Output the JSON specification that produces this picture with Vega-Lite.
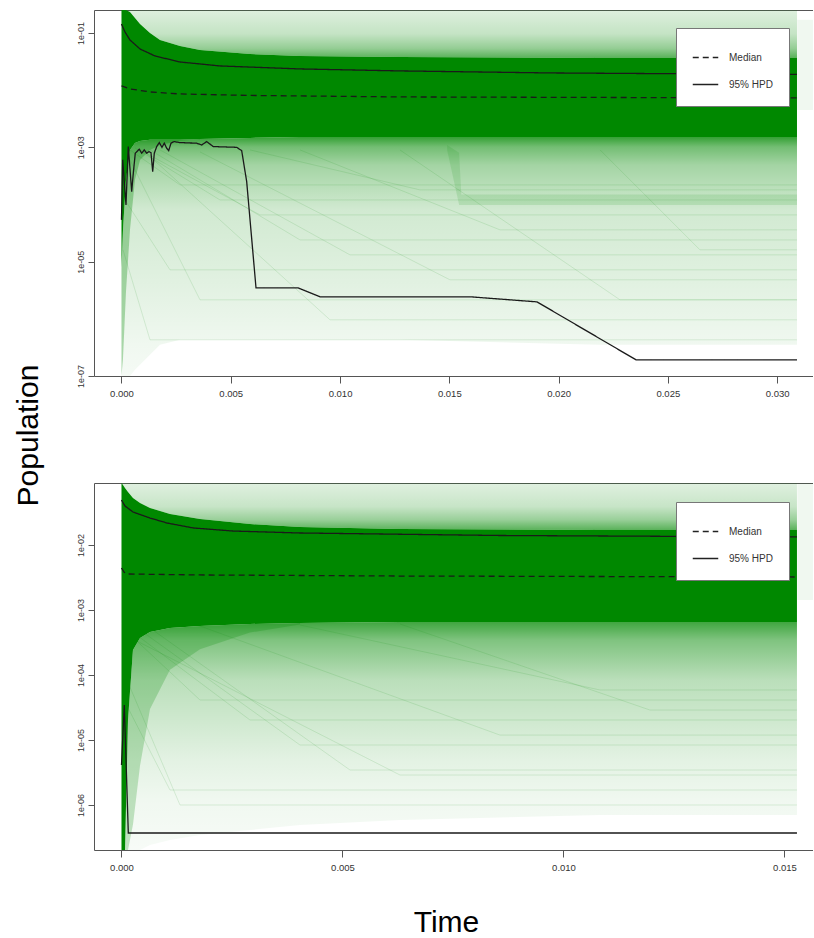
{
  "$schema": "https://vega.github.io/schema/vega-lite/v6.json",
  "autosize": {"type": "pad"},
  "padding": {"left": 13, "top": 10, "right": 0, "bottom": 0},
  "bounds": "flush",
  "spacing": 107,
  "config": {"view": {"stroke": null}, "font": "Liberation Sans"},
  "datasets": {
    "bands": [
      {"p":"top","b":"c","t":0,"lo":7.79e-6,"hi":0.252},
      {"p":"top","b":"c","t":0.0000686,"lo":3.6e-5,"hi":0.252},
      {"p":"top","b":"c","t":0.000206,"lo":2.69e-4,"hi":0.252},
      {"p":"top","b":"c","t":0.000389,"lo":9.01e-4,"hi":0.233},
      {"p":"top","b":"c","t":0.000618,"lo":1.19e-3,"hi":0.183},
      {"p":"top","b":"c","t":0.000847,"lo":1.29e-3,"hi":0.1437},
      {"p":"top","b":"c","t":0.001304,"lo":1.35e-3,"hi":0.1},
      {"p":"top","b":"c","t":0.001762,"lo":1.35e-3,"hi":0.0754},
      {"p":"top","b":"c","t":0.002677,"lo":1.35e-3,"hi":0.0593},
      {"p":"top","b":"c","t":0.003592,"lo":1.40e-3,"hi":0.0504},
      {"p":"top","b":"c","t":0.00588,"lo":1.46e-3,"hi":0.0429},
      {"p":"top","b":"c","t":0.008168,"lo":1.52e-3,"hi":0.0396},
      {"p":"top","b":"c","t":0.01274,"lo":1.52e-3,"hi":0.038},
      {"p":"top","b":"c","t":0.0219,"lo":1.52e-3,"hi":0.0366},
      {"p":"top","b":"c","t":0.03091,"lo":1.52e-3,"hi":0.0366},

      {"p":"top","b":"uh","t":0.000206,"lo":0.252,"hi":0.252},
      {"p":"top","b":"uh","t":0.000389,"lo":0.233,"hi":0.252},
      {"p":"top","b":"uh","t":0.000618,"lo":0.183,"hi":0.252},
      {"p":"top","b":"uh","t":0.000847,"lo":0.1437,"hi":0.252},
      {"p":"top","b":"uh","t":0.001304,"lo":0.1,"hi":0.252},
      {"p":"top","b":"uh","t":0.001762,"lo":0.0754,"hi":0.252},
      {"p":"top","b":"uh","t":0.002677,"lo":0.0593,"hi":0.252},
      {"p":"top","b":"uh","t":0.003592,"lo":0.0504,"hi":0.252},
      {"p":"top","b":"uh","t":0.00588,"lo":0.0429,"hi":0.252},
      {"p":"top","b":"uh","t":0.008168,"lo":0.0396,"hi":0.252},
      {"p":"top","b":"uh","t":0.01274,"lo":0.038,"hi":0.252},
      {"p":"top","b":"uh","t":0.0219,"lo":0.0366,"hi":0.252},
      {"p":"top","b":"uh","t":0.03091,"lo":0.0366,"hi":0.252},

      {"p":"top","b":"lh","t":0,"lo":1e-7,"hi":7.79e-6},
      {"p":"top","b":"lh","t":0.0000686,"lo":1e-7,"hi":3.6e-5},
      {"p":"top","b":"lh","t":0.000206,"lo":1e-7,"hi":2.69e-4},
      {"p":"top","b":"lh","t":0.000389,"lo":1e-7,"hi":9.01e-4},
      {"p":"top","b":"lh","t":0.000618,"lo":1.28e-7,"hi":1.19e-3},
      {"p":"top","b":"lh","t":0.000847,"lo":1.57e-7,"hi":1.29e-3},
      {"p":"top","b":"lh","t":0.001304,"lo":2.35e-7,"hi":1.35e-3},
      {"p":"top","b":"lh","t":0.001762,"lo":3.51e-7,"hi":1.35e-3},
      {"p":"top","b":"lh","t":0.002677,"lo":4.29e-7,"hi":1.35e-3},
      {"p":"top","b":"lh","t":0.003592,"lo":4.29e-7,"hi":1.40e-3},
      {"p":"top","b":"lh","t":0.00588,"lo":4.29e-7,"hi":1.46e-3},
      {"p":"top","b":"lh","t":0.008168,"lo":4.29e-7,"hi":1.52e-3},
      {"p":"top","b":"lh","t":0.01274,"lo":4.29e-7,"hi":1.52e-3},
      {"p":"top","b":"lh","t":0.0219,"lo":3.51e-7,"hi":1.52e-3},
      {"p":"top","b":"lh","t":0.03091,"lo":3.51e-7,"hi":1.52e-3},

      {"p":"top","b":"lf","t":0,"lo":1e-7,"hi":7.79e-6},
      {"p":"top","b":"lf","t":0.0000686,"lo":2e-7,"hi":3.6e-5},
      {"p":"top","b":"lf","t":0.000206,"lo":3e-6,"hi":2.69e-4},
      {"p":"top","b":"lf","t":0.000389,"lo":3.6e-5,"hi":9.01e-4},
      {"p":"top","b":"lf","t":0.000618,"lo":2.7e-4,"hi":1.19e-3},
      {"p":"top","b":"lf","t":0.000847,"lo":6e-4,"hi":1.29e-3},
      {"p":"top","b":"lf","t":0.001304,"lo":9e-4,"hi":1.35e-3},
      {"p":"top","b":"lf","t":0.001762,"lo":1.1e-3,"hi":1.35e-3},
      {"p":"top","b":"lf","t":0.002677,"lo":1.3e-3,"hi":1.35e-3},
      {"p":"top","b":"lf","t":0.003592,"lo":1.38e-3,"hi":1.40e-3},

      {"p":"top","b":"s","t":0.0149,"lo":9.0e-4,"hi":1.1e-3},
      {"p":"top","b":"s","t":0.01545,"lo":9.8e-5,"hi":8.0e-4},
      {"p":"top","b":"s","t":0.01555,"lo":9.8e-5,"hi":1.5e-4},
      {"p":"top","b":"s","t":0.03091,"lo":9.8e-5,"hi":1.5e-4},

      {"p":"top","b":"ext","t":0.03092,"lo":0.0045,"hi":0.17},
      {"p":"top","b":"ext","t":0.0317,"lo":0.0045,"hi":0.17},

      {"p":"bot","b":"c","t":0,"lo":2.03e-7,"hi":0.0899},
      {"p":"bot","b":"c","t":0.0000339,"lo":2.03e-7,"hi":0.0838},
      {"p":"bot","b":"c","t":0.0000792,"lo":2.03e-7,"hi":0.0753},
      {"p":"bot","b":"c","t":0.000147,"lo":2.03e-5,"hi":0.0654},
      {"p":"bot","b":"c","t":0.00026,"lo":2.42e-4,"hi":0.0528},
      {"p":"bot","b":"c","t":0.000419,"lo":3.71e-4,"hi":0.0443},
      {"p":"bot","b":"c","t":0.000645,"lo":4.59e-4,"hi":0.0371},
      {"p":"bot","b":"c","t":0.001097,"lo":5.28e-4,"hi":0.03},
      {"p":"bot","b":"c","t":0.001776,"lo":5.67e-4,"hi":0.0251},
      {"p":"bot","b":"c","t":0.002907,"lo":6.09e-4,"hi":0.021},
      {"p":"bot","b":"c","t":0.004038,"lo":6.31e-4,"hi":0.0189},
      {"p":"bot","b":"c","t":0.0063,"lo":6.54e-4,"hi":0.0176},
      {"p":"bot","b":"c","t":0.010825,"lo":6.54e-4,"hi":0.017},
      {"p":"bot","b":"c","t":0.015282,"lo":6.54e-4,"hi":0.017},

      {"p":"bot","b":"uh","t":0,"lo":0.0899,"hi":0.0899},
      {"p":"bot","b":"uh","t":0.0000339,"lo":0.0838,"hi":0.0899},
      {"p":"bot","b":"uh","t":0.0000792,"lo":0.0753,"hi":0.0899},
      {"p":"bot","b":"uh","t":0.000147,"lo":0.0654,"hi":0.0899},
      {"p":"bot","b":"uh","t":0.00026,"lo":0.0528,"hi":0.0899},
      {"p":"bot","b":"uh","t":0.000419,"lo":0.0443,"hi":0.0899},
      {"p":"bot","b":"uh","t":0.000645,"lo":0.0371,"hi":0.0899},
      {"p":"bot","b":"uh","t":0.001097,"lo":0.03,"hi":0.0899},
      {"p":"bot","b":"uh","t":0.001776,"lo":0.0251,"hi":0.0899},
      {"p":"bot","b":"uh","t":0.002907,"lo":0.021,"hi":0.0899},
      {"p":"bot","b":"uh","t":0.004038,"lo":0.0189,"hi":0.0899},
      {"p":"bot","b":"uh","t":0.0063,"lo":0.0176,"hi":0.0899},
      {"p":"bot","b":"uh","t":0.010825,"lo":0.017,"hi":0.0899},
      {"p":"bot","b":"uh","t":0.015282,"lo":0.017,"hi":0.0899},

      {"p":"bot","b":"lh","t":0.0000792,"lo":2.03e-7,"hi":2.03e-7},
      {"p":"bot","b":"lh","t":0.000147,"lo":2.03e-7,"hi":2.03e-5},
      {"p":"bot","b":"lh","t":0.00026,"lo":2.03e-7,"hi":2.42e-4},
      {"p":"bot","b":"lh","t":0.000419,"lo":2.03e-7,"hi":3.71e-4},
      {"p":"bot","b":"lh","t":0.000645,"lo":2.42e-7,"hi":4.59e-4},
      {"p":"bot","b":"lh","t":0.001097,"lo":2.89e-7,"hi":5.28e-4},
      {"p":"bot","b":"lh","t":0.001776,"lo":3.45e-7,"hi":5.67e-4},
      {"p":"bot","b":"lh","t":0.002907,"lo":4.12e-7,"hi":6.09e-4},
      {"p":"bot","b":"lh","t":0.004038,"lo":4.92e-7,"hi":6.31e-4},
      {"p":"bot","b":"lh","t":0.0063,"lo":5.88e-7,"hi":6.54e-4},
      {"p":"bot","b":"lh","t":0.010825,"lo":7.02e-7,"hi":6.54e-4},
      {"p":"bot","b":"lh","t":0.015282,"lo":7.02e-7,"hi":6.54e-4},

      {"p":"bot","b":"lf","t":0.0000792,"lo":2.03e-7,"hi":2.03e-7},
      {"p":"bot","b":"lf","t":0.000147,"lo":2.03e-7,"hi":2.03e-5},
      {"p":"bot","b":"lf","t":0.00026,"lo":5e-7,"hi":2.42e-4},
      {"p":"bot","b":"lf","t":0.000419,"lo":4e-6,"hi":3.71e-4},
      {"p":"bot","b":"lf","t":0.000645,"lo":3e-5,"hi":4.59e-4},
      {"p":"bot","b":"lf","t":0.001097,"lo":1.2e-4,"hi":5.28e-4},
      {"p":"bot","b":"lf","t":0.001776,"lo":2.5e-4,"hi":5.67e-4},
      {"p":"bot","b":"lf","t":0.002907,"lo":4.5e-4,"hi":6.09e-4},
      {"p":"bot","b":"lf","t":0.004038,"lo":6.0e-4,"hi":6.31e-4},

      {"p":"bot","b":"ext","t":0.01529,"lo":1.43e-3,"hi":0.0899},
      {"p":"bot","b":"ext","t":0.01567,"lo":1.43e-3,"hi":0.0899}
    ],
    "traj": [
      {"p":"top","id":1,"t":0.000389,"v":9.01e-4},{"p":"top","id":1,"t":0.002677,"v":2.2e-4},{"p":"top","id":1,"t":0.03091,"v":2.2e-4},
      {"p":"top","id":2,"t":0.000618,"v":9.76e-4},{"p":"top","id":2,"t":0.004507,"v":1.2e-4},{"p":"top","id":2,"t":0.03091,"v":1.2e-4},
      {"p":"top","id":3,"t":0.000847,"v":9.01e-4},{"p":"top","id":3,"t":0.006338,"v":6.58e-5},{"p":"top","id":3,"t":0.03091,"v":6.58e-5},
      {"p":"top","id":4,"t":0.001304,"v":9.01e-4},{"p":"top","id":4,"t":0.008168,"v":2.4e-5},{"p":"top","id":4,"t":0.03091,"v":2.4e-5},
      {"p":"top","id":5,"t":0.001762,"v":9.01e-4},{"p":"top","id":5,"t":0.010456,"v":1.315e-5},{"p":"top","id":5,"t":0.03091,"v":1.315e-5},
      {"p":"top","id":6,"t":0.00016,"v":1.2e-4},{"p":"top","id":6,"t":0.002219,"v":7.19e-6},{"p":"top","id":6,"t":0.03091,"v":7.19e-6},
      {"p":"top","id":7,"t":0.000389,"v":6.03e-4},{"p":"top","id":7,"t":0.003592,"v":2.15e-6},{"p":"top","id":7,"t":0.03091,"v":2.15e-6},
      {"p":"top","id":8,"t":0.001075,"v":8.31e-4},{"p":"top","id":8,"t":0.009541,"v":9.61e-7},{"p":"top","id":8,"t":0.03091,"v":9.61e-7},
      {"p":"top","id":9,"t":0.008168,"v":9.01e-4},{"p":"top","id":9,"t":0.01732,"v":3.6e-5},{"p":"top","id":9,"t":0.03091,"v":3.6e-5},
      {"p":"top","id":10,"t":0.01274,"v":9.01e-4},{"p":"top","id":10,"t":0.02281,"v":2.15e-6},{"p":"top","id":10,"t":0.03091,"v":2.15e-6},
      {"p":"top","id":11,"t":0.003592,"v":8.31e-4},{"p":"top","id":11,"t":0.01503,"v":4.81e-6},{"p":"top","id":11,"t":0.03091,"v":4.81e-6},
      {"p":"top","id":12,"t":0.0000686,"v":1.61e-5},{"p":"top","id":12,"t":0.001304,"v":4.29e-7},{"p":"top","id":12,"t":0.03091,"v":4.29e-7},
      {"p":"top","id":13,"t":0.0219,"v":9.01e-4},{"p":"top","id":13,"t":0.02647,"v":1.61e-5},{"p":"top","id":13,"t":0.03091,"v":1.61e-5},
      {"p":"top","id":14,"t":0.00588,"v":9.01e-4},{"p":"top","id":14,"t":0.01366,"v":1.8e-4},{"p":"top","id":14,"t":0.03091,"v":1.8e-4},

      {"p":"bot","id":1,"t":0.0000792,"v":4.92e-4},{"p":"bot","id":1,"t":0.001776,"v":4.12e-5},{"p":"bot","id":1,"t":0.015282,"v":4.12e-5},
      {"p":"bot","id":2,"t":0.000192,"v":4.92e-4},{"p":"bot","id":2,"t":0.002907,"v":2.03e-5},{"p":"bot","id":2,"t":0.015282,"v":2.03e-5},
      {"p":"bot","id":3,"t":0.000419,"v":4.92e-4},{"p":"bot","id":3,"t":0.004038,"v":8.37e-6},{"p":"bot","id":3,"t":0.015282,"v":8.37e-6},
      {"p":"bot","id":4,"t":0.000645,"v":5.28e-4},{"p":"bot","id":4,"t":0.00517,"v":3.45e-6},{"p":"bot","id":4,"t":0.015282,"v":3.45e-6},
      {"p":"bot","id":5,"t":0.0000566,"v":4.12e-5},{"p":"bot","id":5,"t":0.001097,"v":1.7e-6},{"p":"bot","id":5,"t":0.015282,"v":1.7e-6},
      {"p":"bot","id":6,"t":0.000305,"v":3.45e-4},{"p":"bot","id":6,"t":0.006301,"v":2.89e-6},{"p":"bot","id":6,"t":0.015282,"v":2.89e-6},
      {"p":"bot","id":7,"t":0.004038,"v":5.88e-4},{"p":"bot","id":7,"t":0.010825,"v":5.88e-5},{"p":"bot","id":7,"t":0.015282,"v":5.88e-5},
      {"p":"bot","id":8,"t":0.001776,"v":5.67e-4},{"p":"bot","id":8,"t":0.008563,"v":1.19e-5},{"p":"bot","id":8,"t":0.015282,"v":1.19e-5},
      {"p":"bot","id":9,"t":0.000124,"v":8.37e-5},{"p":"bot","id":9,"t":0.001323,"v":1.0e-6},{"p":"bot","id":9,"t":0.015282,"v":1.0e-6},
      {"p":"bot","id":10,"t":0.006301,"v":6.09e-4},{"p":"bot","id":10,"t":0.011956,"v":2.89e-5},{"p":"bot","id":10,"t":0.015282,"v":2.89e-5}
    ],
    "lines": [
      {"p":"top","s":"m","stat":"Median","t":0,"v":0.01184},
      {"p":"top","s":"m","stat":"Median","t":0.000389,"v":0.0105},
      {"p":"top","s":"m","stat":"Median","t":0.001304,"v":0.0093},
      {"p":"top","s":"m","stat":"Median","t":0.002677,"v":0.00858},
      {"p":"top","s":"m","stat":"Median","t":0.00588,"v":0.00808},
      {"p":"top","s":"m","stat":"Median","t":0.01274,"v":0.00761},
      {"p":"top","s":"m","stat":"Median","t":0.03091,"v":0.0073},

      {"p":"top","s":"u","stat":"95% HPD","t":0,"v":0.1437},
      {"p":"top","s":"u","stat":"95% HPD","t":0.00016,"v":0.1041},
      {"p":"top","s":"u","stat":"95% HPD","t":0.000389,"v":0.0754},
      {"p":"top","s":"u","stat":"95% HPD","t":0.000847,"v":0.0525},
      {"p":"top","s":"u","stat":"95% HPD","t":0.001533,"v":0.0396},
      {"p":"top","s":"u","stat":"95% HPD","t":0.002677,"v":0.0311},
      {"p":"top","s":"u","stat":"95% HPD","t":0.004507,"v":0.0265},
      {"p":"top","s":"u","stat":"95% HPD","t":0.008168,"v":0.0235},
      {"p":"top","s":"u","stat":"95% HPD","t":0.01274,"v":0.0217},
      {"p":"top","s":"u","stat":"95% HPD","t":0.01961,"v":0.02},
      {"p":"top","s":"u","stat":"95% HPD","t":0.03091,"v":0.0188},

      {"p":"top","s":"l","stat":"95% HPD","t":0,"v":5.38e-5},
      {"p":"top","s":"l","stat":"95% HPD","t":0.000055,"v":6.03e-4},
      {"p":"top","s":"l","stat":"95% HPD","t":0.000206,"v":9.84e-5},
      {"p":"top","s":"l","stat":"95% HPD","t":0.000311,"v":1.03e-3},
      {"p":"top","s":"l","stat":"95% HPD","t":0.000467,"v":1.68e-4},
      {"p":"top","s":"l","stat":"95% HPD","t":0.00054,"v":3.52e-4},
      {"p":"top","s":"l","stat":"95% HPD","t":0.000631,"v":7.89e-4},
      {"p":"top","s":"l","stat":"95% HPD","t":0.000815,"v":9.27e-4},
      {"p":"top","s":"l","stat":"95% HPD","t":0.000924,"v":7.89e-4},
      {"p":"top","s":"l","stat":"95% HPD","t":0.001043,"v":9.01e-4},
      {"p":"top","s":"l","stat":"95% HPD","t":0.001153,"v":7.89e-4},
      {"p":"top","s":"l","stat":"95% HPD","t":0.001258,"v":8.42e-4},
      {"p":"top","s":"l","stat":"95% HPD","t":0.00135,"v":8.08e-4},
      {"p":"top","s":"l","stat":"95% HPD","t":0.001428,"v":3.76e-4},
      {"p":"top","s":"l","stat":"95% HPD","t":0.001501,"v":7.89e-4},
      {"p":"top","s":"l","stat":"95% HPD","t":0.001611,"v":1.03e-3},
      {"p":"top","s":"l","stat":"95% HPD","t":0.00173,"v":1.21e-3},
      {"p":"top","s":"l","stat":"95% HPD","t":0.001853,"v":1.0e-3},
      {"p":"top","s":"l","stat":"95% HPD","t":0.001959,"v":1.18e-3},
      {"p":"top","s":"l","stat":"95% HPD","t":0.002068,"v":9.64e-4},
      {"p":"top","s":"l","stat":"95% HPD","t":0.00216,"v":8.75e-4},
      {"p":"top","s":"l","stat":"95% HPD","t":0.002265,"v":1.18e-3},
      {"p":"top","s":"l","stat":"95% HPD","t":0.002403,"v":1.26e-3},
      {"p":"top","s":"l","stat":"95% HPD","t":0.002677,"v":1.21e-3},
      {"p":"top","s":"l","stat":"95% HPD","t":0.003441,"v":1.18e-3},
      {"p":"top","s":"l","stat":"95% HPD","t":0.00367,"v":1.10e-3},
      {"p":"top","s":"l","stat":"95% HPD","t":0.003899,"v":1.26e-3},
      {"p":"top","s":"l","stat":"95% HPD","t":0.0042,"v":1.03e-3},
      {"p":"top","s":"l","stat":"95% HPD","t":0.005272,"v":1.0e-3},
      {"p":"top","s":"l","stat":"95% HPD","t":0.0055,"v":8.75e-4},
      {"p":"top","s":"l","stat":"95% HPD","t":0.005729,"v":2.51e-4},
      {"p":"top","s":"l","stat":"95% HPD","t":0.006155,"v":3.48e-6},
      {"p":"top","s":"l","stat":"95% HPD","t":0.008077,"v":3.48e-6},
      {"p":"top","s":"l","stat":"95% HPD","t":0.009084,"v":2.43e-6},
      {"p":"top","s":"l","stat":"95% HPD","t":0.015947,"v":2.43e-6},
      {"p":"top","s":"l","stat":"95% HPD","t":0.019013,"v":1.98e-6},
      {"p":"top","s":"l","stat":"95% HPD","t":0.023543,"v":1.92e-7},
      {"p":"top","s":"l","stat":"95% HPD","t":0.030911,"v":1.92e-7},

      {"p":"bot","s":"m","stat":"Median","t":0,"v":0.00443},
      {"p":"bot","s":"m","stat":"Median","t":0.0000566,"v":0.00384},
      {"p":"bot","s":"m","stat":"Median","t":0.000124,"v":0.00358},
      {"p":"bot","s":"m","stat":"Median","t":0.001776,"v":0.00346},
      {"p":"bot","s":"m","stat":"Median","t":0.0063,"v":0.00333},
      {"p":"bot","s":"m","stat":"Median","t":0.015282,"v":0.00322},

      {"p":"bot","s":"u","stat":"95% HPD","t":0,"v":0.0492},
      {"p":"bot","s":"u","stat":"95% HPD","t":0.0000792,"v":0.0398},
      {"p":"bot","s":"u","stat":"95% HPD","t":0.00026,"v":0.0322},
      {"p":"bot","s":"u","stat":"95% HPD","t":0.000645,"v":0.026},
      {"p":"bot","s":"u","stat":"95% HPD","t":0.001029,"v":0.0218},
      {"p":"bot","s":"u","stat":"95% HPD","t":0.001618,"v":0.0183},
      {"p":"bot","s":"u","stat":"95% HPD","t":0.002523,"v":0.0164},
      {"p":"bot","s":"u","stat":"95% HPD","t":0.004038,"v":0.0153},
      {"p":"bot","s":"u","stat":"95% HPD","t":0.008563,"v":0.014},
      {"p":"bot","s":"u","stat":"95% HPD","t":0.015282,"v":0.0133},

      {"p":"bot","s":"l","stat":"95% HPD","t":0,"v":4.12e-6},
      {"p":"bot","s":"l","stat":"95% HPD","t":0.0000634,"v":3.45e-5},
      {"p":"bot","s":"l","stat":"95% HPD","t":0.000154,"v":3.71e-7},
      {"p":"bot","s":"l","stat":"95% HPD","t":0.015282,"v":3.71e-7}
    ]
  },
  "resolve": {
    "scale": {"x": "independent", "y": "independent", "strokeDash": "independent"},
    "legend": {"strokeDash": "independent"}
  },
  "vconcat": [
    {
      "width": 719,
      "height": 366,
      "layer": [
        {
          "layer": [
            {
              "data": {"name": "bands"},
              "transform": [{"filter": "datum.p == 'top' && datum.b == 'lh'"}],
              "mark": {"type": "area", "clip": true, "color": {"gradient": "linear", "x1": 0, "y1": 0, "x2": 0, "y2": 1,
                "stops": [{"offset": 0, "color": "rgba(0,136,0,0.8)"}, {"offset": 0.042, "color": "rgba(0,136,0,0.55)"}, {"offset": 0.117, "color": "rgba(0,136,0,0.36)"},
                  {"offset": 0.305, "color": "rgba(0,136,0,0.18)"}, {"offset": 0.68, "color": "rgba(0,136,0,0.1)"}, {"offset": 0.87, "color": "rgba(0,136,0,0.06)"}, {"offset": 1, "color": "rgba(0,136,0,0.04)"}]}},
              "encoding": {
                "x": {"field": "t", "type": "quantitative",
                  "scale": {"domain": [-0.001258, 0.031643], "nice": false, "zero": false},
                  "axis": {"orient": "bottom", "values": [0, 0.005, 0.01, 0.015, 0.02, 0.025, 0.03], "format": ".3f", "title": null,
                    "labelFontSize": 9.5, "labelColor": "#333", "tickSize": 7, "labelPadding": 5, "domainColor": "#555", "tickColor": "#555", "labelFlush": false, "grid": false}},
                "y": {"field": "lo", "type": "quantitative",
                  "scale": {"type": "log", "domain": [1e-7, 0.2523], "nice": false, "zero": false},
                  "axis": {"orient": "left", "values": [1e-7, 1e-5, 1e-3, 1e-1], "labelExpr": "'1e-0' + (-round(log(datum.value)/LN10))",
                    "title": "Population", "titleFontSize": 30, "titleFont": "Liberation Sans", "titleFontWeight": "normal", "titleColor": "#000",
                    "titleAngle": -90, "titleX": -57, "titleY": 425, "titleAlign": "center", "titleBaseline": "alphabetic",
                    "labelAngle": -90, "labelAlign": "center", "labelBaseline": "bottom", "labelFontSize": 9, "labelColor": "#333",
                    "tickSize": 6, "labelPadding": 3, "domainColor": "#555", "tickColor": "#555", "grid": false}},
                "y2": {"field": "hi"}
              }
            },
            {
              "data": {"name": "bands"},
              "transform": [{"filter": "datum.p == 'top' && datum.b == 'uh'"}],
              "mark": {"type": "area", "clip": true, "color": {"gradient": "linear", "x1": 0, "y1": 0, "x2": 0, "y2": 1,
                "stops": [{"offset": 0, "color": "rgba(0,136,0,0.13)"}, {"offset": 0.5, "color": "rgba(0,136,0,0.23)"}, {"offset": 0.8, "color": "rgba(0,136,0,0.42)"}, {"offset": 1, "color": "rgba(0,136,0,0.65)"}]}},
              "encoding": {"x": {"field": "t", "type": "quantitative"}, "y": {"field": "lo", "type": "quantitative"}, "y2": {"field": "hi"}}
            },
            {
              "data": {"name": "bands"},
              "transform": [{"filter": "datum.p == 'top' && datum.b == 'lf'"}],
              "mark": {"type": "area", "clip": true, "color": "#008800", "opacity": 0.3},
              "encoding": {"x": {"field": "t", "type": "quantitative"}, "y": {"field": "lo", "type": "quantitative"}, "y2": {"field": "hi"}}
            },
            {
              "data": {"name": "bands"},
              "transform": [{"filter": "datum.p == 'top' && datum.b == 's'"}],
              "mark": {"type": "area", "clip": true, "color": "#008800", "opacity": 0.12},
              "encoding": {"x": {"field": "t", "type": "quantitative"}, "y": {"field": "lo", "type": "quantitative"}, "y2": {"field": "hi"}}
            },
            {
              "data": {"name": "bands"},
              "transform": [{"filter": "datum.p == 'top' && datum.b == 'ext'"}],
              "mark": {"type": "area", "clip": true, "color": "#008800", "opacity": 0.06},
              "encoding": {"x": {"field": "t", "type": "quantitative"}, "y": {"field": "lo", "type": "quantitative"}, "y2": {"field": "hi"}}
            },
            {
              "data": {"name": "bands"},
              "transform": [{"filter": "datum.p == 'top' && datum.b == 'c'"}],
              "mark": {"type": "area", "clip": true, "color": "#008800"},
              "encoding": {"x": {"field": "t", "type": "quantitative"}, "y": {"field": "lo", "type": "quantitative"}, "y2": {"field": "hi"}}
            },
            {
              "data": {"name": "traj"},
              "transform": [{"filter": "datum.p == 'top'"}],
              "mark": {"type": "line", "clip": true, "color": "#008800", "opacity": 0.2, "strokeWidth": 0.6},
              "encoding": {"x": {"field": "t", "type": "quantitative"}, "y": {"field": "v", "type": "quantitative"}, "detail": {"field": "id"}}
            }
          ]
        },
        {
          "data": {"name": "lines"},
          "transform": [{"filter": "datum.p == 'top'"}],
          "mark": {"type": "line", "color": "#1a1a1a", "strokeWidth": 1.3, "clip": true},
          "encoding": {
            "x": {"field": "t", "type": "quantitative",
              "axis": {"orient": "top", "labels": false, "ticks": false, "title": null, "domainColor": "#555", "grid": false}},
            "y": {"field": "v", "type": "quantitative"},
            "detail": {"field": "s"},
            "strokeDash": {"field": "stat", "type": "nominal",
              "scale": {"domain": ["Median", "95% HPD"], "range": [[6, 4], [1, 0]]},
              "legend": {"orient": "none", "legendX": 582, "legendY": 18, "title": null, "fillColor": "#ffffff", "strokeColor": "#777",
                "padding": 16, "symbolType": "stroke", "symbolSize": 650, "symbolStrokeWidth": 1.3, "symbolStrokeColor": "#222",
                "labelFontSize": 10, "labelFont": "Liberation Sans", "labelColor": "#333", "labelOffset": 10, "rowPadding": 8}}
          }
        }
      ]
    },
    {
      "width": 719,
      "height": 367,
      "layer": [
        {
          "layer": [
            {
              "data": {"name": "bands"},
              "transform": [{"filter": "datum.p == 'bot' && datum.b == 'lh'"}],
              "mark": {"type": "area", "clip": true, "color": {"gradient": "linear", "x1": 0, "y1": 0, "x2": 0, "y2": 1,
                "stops": [{"offset": 0, "color": "rgba(0,136,0,0.75)"}, {"offset": 0.079, "color": "rgba(0,136,0,0.5)"}, {"offset": 0.254, "color": "rgba(0,136,0,0.27)"},
                  {"offset": 0.605, "color": "rgba(0,136,0,0.11)"}, {"offset": 0.78, "color": "rgba(0,136,0,0.06)"}, {"offset": 1, "color": "rgba(0,136,0,0.03)"}]}},
              "encoding": {
                "x": {"field": "t", "type": "quantitative",
                  "scale": {"domain": [-0.000622, 0.015645], "nice": false, "zero": false},
                  "axis": {"orient": "bottom", "values": [0, 0.005, 0.01, 0.015], "format": ".3f",
                    "title": "Time", "titleFontSize": 30, "titleFont": "Liberation Sans", "titleFontWeight": "normal", "titleColor": "#000",
                    "titleX": 352, "titleY": 81, "titleAlign": "center", "titleBaseline": "alphabetic",
                    "labelFontSize": 9.5, "labelColor": "#333", "tickSize": 7, "labelPadding": 5, "domainColor": "#555", "tickColor": "#555", "labelFlush": false, "grid": false}},
                "y": {"field": "lo", "type": "quantitative",
                  "scale": {"type": "log", "domain": [2.03e-7, 0.0899], "nice": false, "zero": false},
                  "axis": {"orient": "left", "values": [1e-6, 1e-5, 1e-4, 1e-3, 1e-2], "labelExpr": "'1e-0' + (-round(log(datum.value)/LN10))",
                    "title": null, "labelAngle": -90, "labelAlign": "center", "labelBaseline": "bottom", "labelFontSize": 9, "labelColor": "#333",
                    "tickSize": 6, "labelPadding": 3, "domainColor": "#555", "tickColor": "#555", "grid": false}},
                "y2": {"field": "hi"}
              }
            },
            {
              "data": {"name": "bands"},
              "transform": [{"filter": "datum.p == 'bot' && datum.b == 'uh'"}],
              "mark": {"type": "area", "clip": true, "color": {"gradient": "linear", "x1": 0, "y1": 0, "x2": 0, "y2": 1,
                "stops": [{"offset": 0, "color": "rgba(0,136,0,0.12)"}, {"offset": 0.5, "color": "rgba(0,136,0,0.22)"}, {"offset": 0.78, "color": "rgba(0,136,0,0.4)"}, {"offset": 1, "color": "rgba(0,136,0,0.65)"}]}},
              "encoding": {"x": {"field": "t", "type": "quantitative"}, "y": {"field": "lo", "type": "quantitative"}, "y2": {"field": "hi"}}
            },
            {
              "data": {"name": "bands"},
              "transform": [{"filter": "datum.p == 'bot' && datum.b == 'lf'"}],
              "mark": {"type": "area", "clip": true, "color": "#008800", "opacity": 0.22},
              "encoding": {"x": {"field": "t", "type": "quantitative"}, "y": {"field": "lo", "type": "quantitative"}, "y2": {"field": "hi"}}
            },
            {
              "data": {"name": "bands"},
              "transform": [{"filter": "datum.p == 'bot' && datum.b == 'ext'"}],
              "mark": {"type": "area", "clip": true, "color": "#008800", "opacity": 0.06},
              "encoding": {"x": {"field": "t", "type": "quantitative"}, "y": {"field": "lo", "type": "quantitative"}, "y2": {"field": "hi"}}
            },
            {
              "data": {"name": "bands"},
              "transform": [{"filter": "datum.p == 'bot' && datum.b == 'c'"}],
              "mark": {"type": "area", "clip": true, "color": "#008800"},
              "encoding": {"x": {"field": "t", "type": "quantitative"}, "y": {"field": "lo", "type": "quantitative"}, "y2": {"field": "hi"}}
            },
            {
              "data": {"name": "traj"},
              "transform": [{"filter": "datum.p == 'bot'"}],
              "mark": {"type": "line", "clip": true, "color": "#008800", "opacity": 0.2, "strokeWidth": 0.6},
              "encoding": {"x": {"field": "t", "type": "quantitative"}, "y": {"field": "v", "type": "quantitative"}, "detail": {"field": "id"}}
            }
          ]
        },
        {
          "data": {"name": "lines"},
          "transform": [{"filter": "datum.p == 'bot'"}],
          "mark": {"type": "line", "color": "#1a1a1a", "strokeWidth": 1.3, "clip": true},
          "encoding": {
            "x": {"field": "t", "type": "quantitative",
              "axis": {"orient": "top", "labels": false, "ticks": false, "title": null, "domainColor": "#555", "grid": false}},
            "y": {"field": "v", "type": "quantitative"},
            "detail": {"field": "s"},
            "strokeDash": {"field": "stat", "type": "nominal",
              "scale": {"domain": ["Median", "95% HPD"], "range": [[6, 4], [1, 0]]},
              "legend": {"orient": "none", "legendX": 582, "legendY": 19, "title": null, "fillColor": "#ffffff", "strokeColor": "#777",
                "padding": 16, "symbolType": "stroke", "symbolSize": 650, "symbolStrokeWidth": 1.3, "symbolStrokeColor": "#222",
                "labelFontSize": 10, "labelFont": "Liberation Sans", "labelColor": "#333", "labelOffset": 10, "rowPadding": 8}}
          }
        }
      ]
    }
  ]
}
